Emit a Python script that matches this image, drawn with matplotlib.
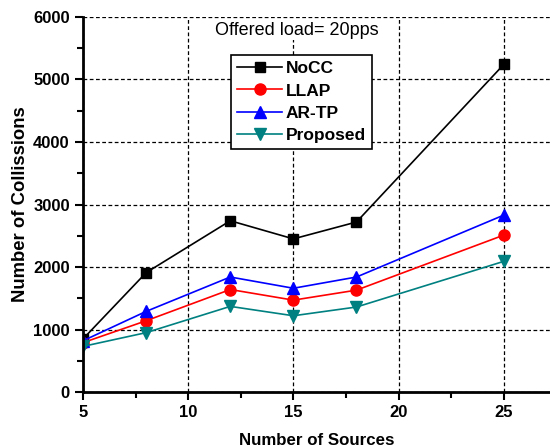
import matplotlib.pyplot as plt
from matplotlib.ticker import MultipleLocator

plt.rcParams['font.family'] = ['Liberation Sans', 'DejaVu Sans']
plt.rcParams['font.weight'] = 'bold'

sources = [5, 8, 12, 15, 18, 25]
nocc = [850, 1910, 2740, 2450, 2720, 5240]
llap = [790, 1140, 1640, 1470, 1630, 2510]
artp = [820, 1290, 1840, 1660, 1840, 2830]
proposed = [730, 950, 1370, 1220, 1360, 2090]

fig = plt.figure(figsize=(5.5, 4.47), dpi=100)
ax = fig.add_axes([0.151, 0.123, 0.849, 0.839])

ax.plot(sources, nocc, color='black', marker='s', markersize=7, lw=1.2, label='NoCC')
ax.plot(sources, llap, color='red', marker='o', markersize=8, lw=1.2, label='LLAP')
ax.plot(sources, artp, color='blue', marker='^', markersize=8.5, lw=1.2, label='AR-TP')
ax.plot(sources, proposed, color='#008080', marker='v', markersize=8.5, lw=1.2, label='Proposed')

ax.set_xlim(5, 27.2)
ax.set_ylim(0, 6000)
ax.xaxis.set_major_locator(MultipleLocator(5))
ax.xaxis.set_minor_locator(MultipleLocator(2.5))
ax.yaxis.set_major_locator(MultipleLocator(1000))
ax.yaxis.set_minor_locator(MultipleLocator(500))
ax.tick_params(which='both', direction='out', width=1.5, labelsize=12)
ax.tick_params(which='major', length=6)
ax.tick_params(which='minor', length=4)
for s in ['top', 'right']:
    ax.spines[s].set_visible(False)
for s in ['left', 'bottom']:
    ax.spines[s].set_linewidth(2)

ax.grid(True, which='major', color='black', linestyle=(0, (3, 2)), linewidth=0.9)

ax.set_xlabel('Number of Sources', fontsize=12.2, fontweight='bold', labelpad=9)
ax.set_ylabel('Number of Collissions', fontsize=13.3, fontweight='bold', labelpad=3)
ax.text(0.458, 0.965, 'Offered load= 20pps', transform=ax.transAxes, fontsize=13,
        fontweight='normal', ha='center', va='center',
        bbox=dict(facecolor='white', edgecolor='none', pad=1))

leg = ax.legend(loc='upper left', bbox_to_anchor=(0.317, 0.898), fontsize=12.5,
                fancybox=False, framealpha=1, edgecolor='black', handlelength=2.6,
                borderpad=0.35, labelspacing=0.4, handletextpad=0.2, borderaxespad=0)
leg.get_frame().set_linewidth(1.2)

fig.savefig('out.png', dpi=100)
